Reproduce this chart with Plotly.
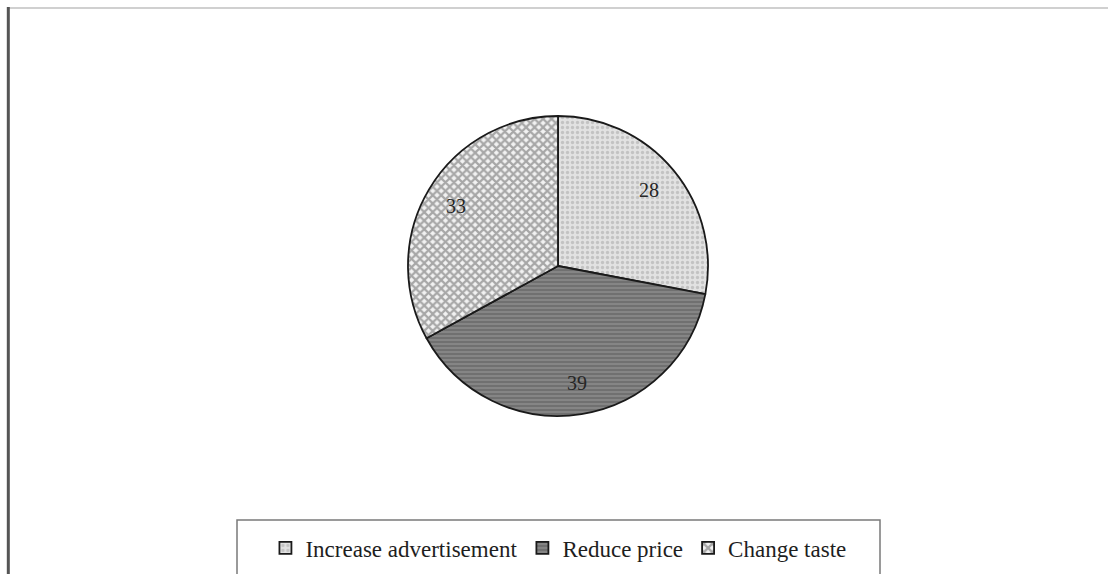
import math
import plotly.graph_objects as go

# Survey responses (percent) by suggested action
categories = ["Increase advertisement", "Reduce price", "Change taste"]
shares = [28, 39, 33]

# Fill styling per slice
fill_colors = ["#e2e2e2", "#858585", "#f2f2f2"]
pattern_shapes = [".", "-", "x"]
pattern_fg = ["#a4a4a4", "#555555", "#5c5c5c"]
pattern_size = [5, 4, 6]
pattern_solidity = [0.35, 0.45, 0.6]

W, H = 1108, 574
pie_cx, pie_cy, pie_r = 558, 266, 150  # pixel geometry of the pie

fig = go.Figure()
fig.add_trace(
    go.Pie(
        labels=categories,
        values=shares,
        sort=False,
        direction="clockwise",
        rotation=0,
        textinfo="none",
        marker=dict(
            colors=fill_colors,
            line=dict(color="#1a1a1a", width=1.8),
            pattern=dict(
                shape=pattern_shapes,
                fgcolor=pattern_fg,
                size=pattern_size,
                solidity=pattern_solidity,
                fillmode="overlay",
            ),
        ),
        domain=dict(
            x=[(pie_cx - pie_r) / W, (pie_cx + pie_r) / W],
            y=[1 - (pie_cy + pie_r) / H, 1 - (pie_cy - pie_r) / H],
        ),
        hoverinfo="label+value",
    )
)

# Value labels placed along each slice's bisector, starting at 12 o'clock, clockwise
annotations = []
total = sum(shares)
acc = 0
for v in shares:
    mid = (acc + v / 2) / total * 2 * math.pi
    acc += v
    dx = 0.79 * pie_r * math.sin(mid)
    dy = 0.79 * pie_r * math.cos(mid)
    annotations.append(
        dict(
            x=(pie_cx + dx) / W,
            y=1 - (pie_cy - dy) / H,
            xref="paper",
            yref="paper",
            xanchor="center",
            yanchor="middle",
            text=str(v),
            showarrow=False,
            font=dict(family="Liberation Serif", size=20, color="#262626"),
        )
    )

fig.update_layout(
    width=W,
    height=H,
    margin=dict(l=0, r=0, t=0, b=0),
    paper_bgcolor="white",
    plot_bgcolor="white",
    showlegend=True,
    annotations=annotations,
    legend=dict(
        orientation="h",
        x=0.504,
        xanchor="center",
        y=1 - 548 / H,
        yanchor="middle",
        font=dict(family="Liberation Serif", size=23, color="#1e1e1e"),
        borderwidth=0,
        bgcolor="rgba(0,0,0,0)",
        itemwidth=30,
    ),
    shapes=[
        # frame edges at top and left
        dict(type="line", xref="paper", yref="paper", x0=0.0065, x1=1, y0=0.986, y1=0.986,
             line=dict(color="#c0c0c0", width=1.5)),
        dict(type="line", xref="paper", yref="paper", x0=0.0075, x1=0.0075, y0=0, y1=0.988,
             line=dict(color="#555555", width=3)),
        # legend frame
        dict(type="rect", xref="paper", yref="paper",
             x0=237 / W, x1=880 / W, y0=-0.02, y1=1 - 520 / H,
             line=dict(color="#7a7a7a", width=1.5), fillcolor="rgba(0,0,0,0)"),
    ],
)

fig.write_html("out.html")
